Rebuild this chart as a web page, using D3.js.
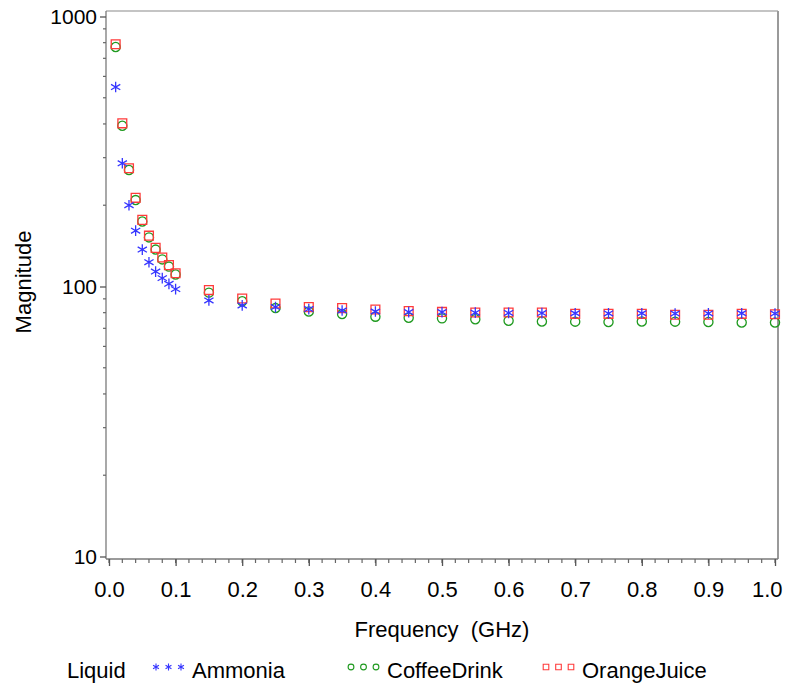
<!DOCTYPE html>
<html>
<head>
<meta charset="utf-8">
<script src="https://cdn.jsdelivr.net/npm/d3@7"></script>
<style>
  body { margin: 0; background: #fff; }
  svg { font-family: "Liberation Sans", Arial, sans-serif; }
</style>
</head>
<body>
<div id="chart"></div>
<script>
// frequencies (GHz) shared by all three liquids
const freq = [0.01, 0.02, 0.03, 0.04, 0.05, 0.06, 0.07, 0.08, 0.09, 0.10,
  0.15, 0.20, 0.25, 0.30, 0.35, 0.40, 0.45, 0.50, 0.55, 0.60,
  0.65, 0.70, 0.75, 0.80, 0.85, 0.90, 0.95, 1.00];

const ammonia = [548, 286, 200, 161, 137, 123, 113.6, 107.4, 102.3, 97.8,
  88.8, 85.1, 83.9, 82.5, 81.5, 80.8, 80.4, 80.4, 80.0, 79.8,
  79.7, 79.6, 79.5, 79.6, 79.4, 79.5, 79.6, 79.4];

const coffee = [771, 394, 270, 209, 174, 152, 137, 126, 118.5, 110.8,
  94.9, 88.2, 83.2, 80.8, 79.1, 77.3, 76.6, 76.2, 75.6, 74.7,
  74.2, 74.1, 73.9, 74.2, 74.1, 73.9, 73.6, 73.6];

const orange = [789, 402, 274, 213, 176.5, 154.3, 139, 128, 120, 112,
  97.0, 90.3, 86.5, 83.9, 83.2, 82.2, 81.1, 80.5, 80.1, 80.1,
  80.1, 79.2, 79.2, 79.2, 78.6, 78.6, 79.2, 78.9];

const xTicks = [0, 0.1, 0.2, 0.3, 0.4, 0.5, 0.6, 0.7, 0.8, 0.9, 1.0];
const yTicks = [10, 100, 1000];

const series = [
  { name: "CoffeeDrink", values: coffee, color: "#1f9a1f", symbol: d3.symbolCircle, size: 66 },
  { name: "OrangeJuice", values: orange, color: "#ff3b3b", symbol: d3.symbolSquare, size: 78 },
  { name: "Ammonia", values: ammonia, color: "#3535ff", symbol: d3.symbolAsterisk, size: 80 }
];
const legendOrder = ["Ammonia", "CoffeeDrink", "OrangeJuice"];

const width = 786, height = 687;

const x = d3.scaleLinear().domain([0, 1]).range([109, 775]);
const y = d3.scaleLog().domain([10, 1000]).range([556.5, 16.5]);

const svg = d3.select("#chart").append("svg")
  .attr("width", width)
  .attr("height", height);

// plot frame
const frame = { left: 106, right: 778, top: 11, bottom: 559 };
svg.append("line")
  .attr("x1", frame.left).attr("x2", frame.right)
  .attr("y1", frame.top).attr("y2", frame.top)
  .attr("stroke", "#8a8a8a").attr("stroke-width", 1.2);
svg.append("line")
  .attr("x1", frame.right).attr("x2", frame.right)
  .attr("y1", frame.top).attr("y2", frame.bottom)
  .attr("stroke", "#9a9a9a").attr("stroke-width", 2);
svg.append("line")
  .attr("x1", frame.left).attr("x2", frame.left)
  .attr("y1", frame.top).attr("y2", frame.bottom)
  .attr("stroke", "#7a7a7a").attr("stroke-width", 1.3);
svg.append("line")
  .attr("x1", frame.left).attr("x2", frame.right)
  .attr("y1", frame.bottom).attr("y2", frame.bottom)
  .attr("stroke", "#7a7a7a").attr("stroke-width", 1.3);

// x axis: minor ticks every 0.02, majors every 0.1
const xMinor = d3.range(0, 1.0001, 0.02);
const xAxisG = svg.append("g").attr("transform", `translate(0,${frame.bottom})`);
xAxisG.selectAll(".minor").data(xMinor).enter().append("line")
  .attr("x1", d => x(d)).attr("x2", d => x(d))
  .attr("y1", 0).attr("y2", 4)
  .attr("stroke", "#666").attr("stroke-width", 1.2);
xAxisG.call(d3.axisBottom(x).tickValues(xTicks).tickFormat(d3.format(".1f"))
    .tickSizeInner(7).tickSizeOuter(0).tickPadding(15))
  .call(g => g.select(".domain").remove())
  .call(g => g.selectAll(".tick line").attr("stroke", "#555").attr("stroke-width", 1.3))
  .call(g => g.selectAll(".tick text").attr("font-size", 22).attr("fill", "#000")
    .attr("font-family", "Liberation Sans, Arial, sans-serif"))
  // last label sits flush against the right edge, as in the original
  .call(g => g.selectAll(".tick text").filter(d => d === 1)
    .attr("text-anchor", "end").attr("x", 7));

// y axis: log minor ticks 2..9 per decade
const yMinor = [];
[10, 100].forEach(b => { for (let k = 2; k <= 9; k++) yMinor.push(b * k); });
const yAxisG = svg.append("g").attr("transform", `translate(${frame.left},0)`);
yAxisG.selectAll(".minor").data(yMinor).enter().append("line")
  .attr("x1", 0).attr("x2", -3)
  .attr("y1", d => y(d)).attr("y2", d => y(d))
  .attr("stroke", "#666").attr("stroke-width", 1.2);
yAxisG.call(d3.axisLeft(y).tickValues(yTicks).tickFormat(d3.format("d"))
    .tickSizeInner(6).tickSizeOuter(0).tickPadding(3))
  .call(g => g.select(".domain").remove())
  .call(g => g.selectAll(".tick line").attr("stroke", "#555").attr("stroke-width", 1.3))
  .call(g => g.selectAll(".tick text").attr("font-size", 21).attr("fill", "#000")
    .attr("font-family", "Liberation Sans, Arial, sans-serif"));

// axis titles
svg.append("text")
  .attr("x", (frame.left + frame.right) / 2)
  .attr("y", 637)
  .attr("text-anchor", "middle")
  .attr("font-size", 22)
  .text("Frequency\u00a0\u00a0(GHz)");

svg.append("text")
  .attr("transform", "translate(31,282) rotate(-90)")
  .attr("text-anchor", "middle")
  .attr("font-size", 22)
  .text("Magnitude");

// points
series.forEach(s => {
  const sym = d3.symbol().type(s.symbol).size(s.size);
  svg.append("g").selectAll("path")
    .data(freq.map((f, i) => ({ f, v: s.values[i] })))
    .enter().append("path")
    .attr("transform", d => `translate(${x(d.f)},${y(d.v)})`)
    .attr("d", sym)
    .attr("fill", "none")
    .attr("stroke", s.color)
    .attr("stroke-width", 1.3);
});

// legend
const legendY = 678;
const legend = svg.append("g");
legend.append("text").attr("x", 67).attr("y", legendY).attr("font-size", 22).text("Liquid");
const legendX = { Ammonia: 156, CoffeeDrink: 351, OrangeJuice: 546 };
legendOrder.forEach(name => {
  const s = series.find(d => d.name === name);
  const sym = d3.symbol().type(s.symbol).size(s.size * 0.4);
  [0, 12.5, 25].forEach(dx => {
    legend.append("path")
      .attr("transform", `translate(${legendX[name] + dx},${legendY - 11})`)
      .attr("d", sym)
      .attr("fill", "none")
      .attr("stroke", s.color)
      .attr("stroke-width", 1.1);
  });
  legend.append("text")
    .attr("x", legendX[name] + 36)
    .attr("y", legendY)
    .attr("font-size", 22)
    .text(name);
});
</script>
</body>
</html>
